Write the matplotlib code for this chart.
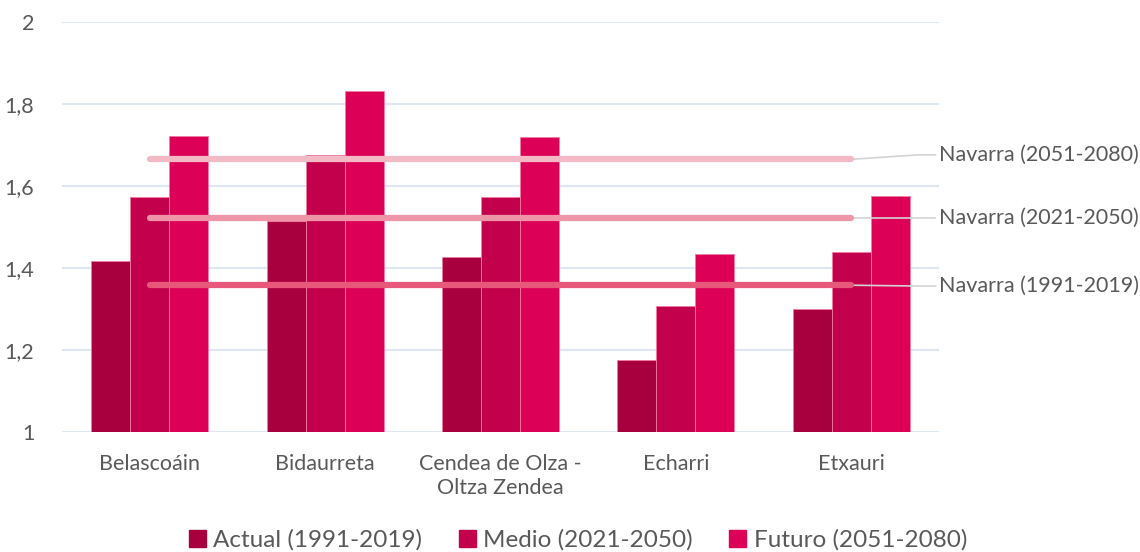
import numpy as np
import matplotlib.pyplot as plt
from matplotlib.patches import Rectangle

plt.rcParams['font.family'] = ['Lato', 'DejaVu Sans']

# data
categories = ["Belascoáin", "Bidaurreta", "Cendea de Olza -\nOltza Zendea", "Echarri", "Etxauri"]
series_names = ["Actual (1991-2019)", "Medio (2021-2050)", "Futuro (2051-2080)"]
actual = [1.418, 1.514, 1.427, 1.176, 1.300]
medio = [1.573, 1.675, 1.573, 1.307, 1.439]
futuro = [1.721, 1.831, 1.720, 1.433, 1.576]
navarra_names = ["Navarra (2051-2080)", "Navarra (2021-2050)", "Navarra (1991-2019)"]
navarra_values = [1.665, 1.523, 1.358]

bar_colors = ["#A8003F", "#C2004C", "#DC0056"]
line_colors = ["#F3B9C5", "#EE95A8", "#E8587B"]
text_color = "#595959"

fig = plt.figure(figsize=(11.4, 5.52), dpi=100)
ax = fig.add_axes([62 / 1140, 1 - 432 / 552, (939 - 62) / 1140, 410 / 552])

x = np.arange(len(categories))
w = 0.222
for i, (vals, col) in enumerate(zip([actual, medio, futuro], bar_colors)):
    ax.bar(x + (i - 1) * w, np.array(vals) - 1, bottom=1, width=w, color=col,
           edgecolor="#F07CA0", linewidth=0.6, zorder=2)

# navarra reference lines
label_y = {0: 0.011, 1: 0.0, 2: -0.002}
for i, (name, val, col) in enumerate(zip(navarra_names, navarra_values, line_colors)):
    ax.plot([x[0], x[-1]], [val, val], color=col, linewidth=4.5,
            solid_capstyle="round", zorder=3)
    ly = val + label_y[i]
    ax.plot([x[-1], 4.38, 4.48], [val, ly, ly], color="#D3D3D3", linewidth=1.2,
            clip_on=False, zorder=2)
    ax.text(4.5, ly, name, ha="left", va="center", fontsize=15.5,
            color=text_color, clip_on=False)

ax.set_xlim(-0.5, 4.5)
ax.set_ylim(1, 2)
ax.set_yticks([1, 1.2, 1.4, 1.6, 1.8, 2])
ax.set_yticklabels(["1", "1,2", "1,4", "1,6", "1,8", "2"])
ax.set_xticks(x)
ax.set_xticklabels(categories, linespacing=1.25)
ax.tick_params(axis="both", length=0, labelsize=15.5, labelcolor=text_color)
ax.tick_params(axis="y", pad=20)
ax.tick_params(axis="x", pad=16)
ax.grid(axis="y", color="#DDE7F3", linewidth=1.5, zorder=0)
ax.set_axisbelow(True)
for s in ax.spines.values():
    s.set_visible(False)

handles = [Rectangle((0, 0), 1, 1, color=c) for c in bar_colors]
fig.legend(handles, series_names, loc="center", bbox_to_anchor=(0.507, 0.022),
           ncol=3, frameon=False, fontsize=17.5, labelcolor=text_color,
           handlelength=0.7, handleheight=0.7, handletextpad=0.3,
           columnspacing=1.5)

fig.savefig("out.png", dpi=100)
